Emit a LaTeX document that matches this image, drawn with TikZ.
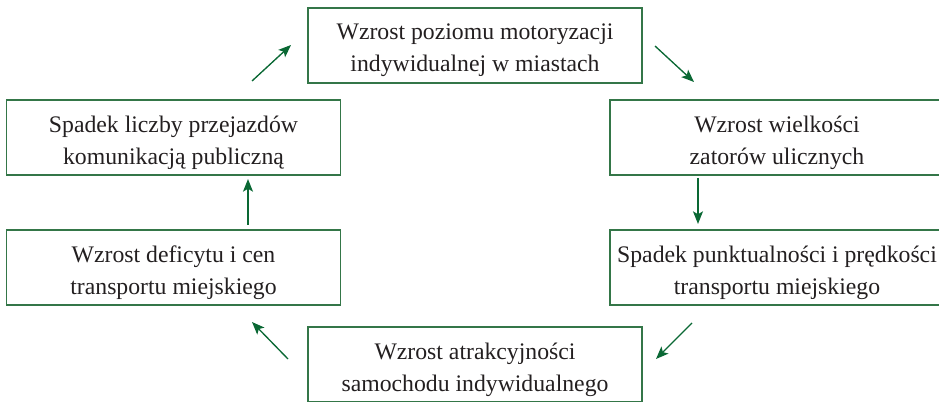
\documentclass[tikz,border=0pt]{standalone}
\usepackage{fontspec}
\setmainfont{Liberation Serif}
\usetikzlibrary{arrows.meta}
\definecolor{frame}{RGB}{52,118,72}
\definecolor{arrowgreen}{RGB}{10,104,52}
\definecolor{ink}{RGB}{35,31,32}
\begin{document}
\begin{tikzpicture}[x=0.75pt,y=-0.75pt,
  stage/.style={draw=frame, line width=0.9pt, rectangle, inner sep=0pt,
    minimum width=250.5pt, minimum height=56.25pt},
  caption/.style={align=center, inner sep=0pt, text=ink,
    font=\fontsize{17.8}{23.8}\selectfont},
  flow/.style={draw=arrowgreen, line width=1pt,
    -{Stealth[length=9.5pt,width=7.5pt,inset=2.2pt]}}]
\useasboundingbox (0,0) rectangle (939,402);

% the six stages of the cycle: frames
\node[stage] (top)    at (475,45.5)    {};
\node[stage] (rightU) at (777,137.5)   {};
\node[stage] (rightL) at (777,267.5)   {};
\node[stage] (bottom) at (475,364.5)   {};
\node[stage] (leftL)  at (173.5,267.5) {};
\node[stage] (leftU)  at (173.5,137.5) {};

% their texts, set a little below the frame centre
\node[caption] (top-t)    at ([yshift=-3.75pt]top.center)    {Wzrost poziomu motoryzacji\\indywidualnej w miastach};
\node[caption] (rightU-t) at ([yshift=-3.75pt]rightU.center) {Wzrost wielkości\\zatorów ulicznych};
\node[caption] (rightL-t) at ([yshift=-3.75pt]rightL.center) {Spadek punktualności i prędkości\\transportu miejskiego};
\node[caption] (bottom-t) at ([yshift=-3.75pt]bottom.center) {Wzrost atrakcyjności\\samochodu indywidualnego};
\node[caption] (leftL-t)  at ([yshift=-3.75pt]leftL.center)  {Wzrost deficytu i cen\\transportu miejskiego};
\node[caption] (leftU-t)  at ([yshift=-3.75pt]leftU.center)  {Spadek liczby przejazdów\\komunikacją publiczną};

% end points of the short arrows between the stages
\coordinate (a1s) at (252,81);  \coordinate (a1e) at (291,45);
\coordinate (a2s) at (655,46);  \coordinate (a2e) at (694,82);
\coordinate (a3s) at (698,178); \coordinate (a3e) at (698,224);
\coordinate (a4s) at (692,323); \coordinate (a4e) at (656,359);
\coordinate (a5s) at (288,359); \coordinate (a5e) at (252,322);
\coordinate (a6s) at (248,225); \coordinate (a6e) at (248,179);

\draw[flow] (a1s) -- (a1e);
\draw[flow] (a2s) -- (a2e);
\draw[flow] (a3s) -- (a3e);
\draw[flow] (a4s) -- (a4e);
\draw[flow] (a5s) -- (a5e);
\draw[flow] (a6s) -- (a6e);
\end{tikzpicture}
\end{document}
